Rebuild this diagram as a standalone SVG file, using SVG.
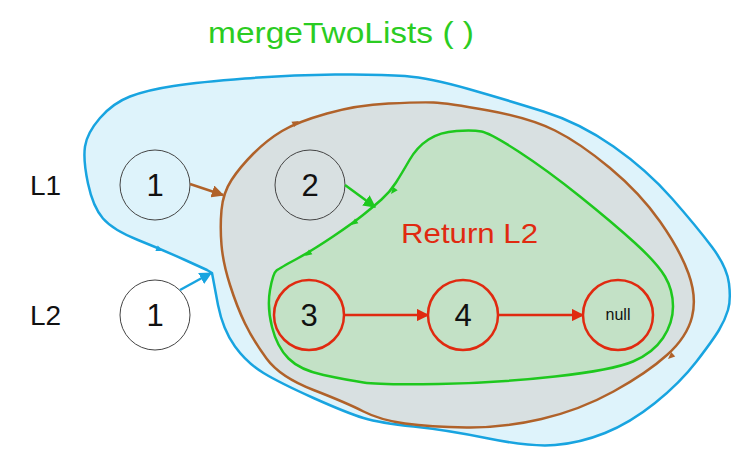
<svg xmlns="http://www.w3.org/2000/svg" width="747" height="468" viewBox="0 0 747 468">
<defs>
<marker id="ab" viewBox="0 0 10 10" refX="9" refY="5" markerWidth="5" markerHeight="5" orient="auto" markerUnits="strokeWidth"><path d="M0,0 L10,5 L0,10 Z" fill="#b0622a"/></marker>
<marker id="ag" viewBox="0 0 10 10" refX="9" refY="5" markerWidth="5" markerHeight="5" orient="auto" markerUnits="strokeWidth"><path d="M0,0 L10,5 L0,10 Z" fill="#1ec81e"/></marker>
<marker id="abl" viewBox="0 0 10 10" refX="9" refY="5" markerWidth="5" markerHeight="5" orient="auto" markerUnits="strokeWidth"><path d="M0,0 L10,5 L0,10 Z" fill="#18a4e0"/></marker>
<marker id="ar" viewBox="0 0 10 10" refX="9" refY="5" markerWidth="5" markerHeight="5" orient="auto" markerUnits="strokeWidth"><path d="M0,0 L10,5 L0,10 Z" fill="#e02a10"/></marker>
</defs>
<style>
.t{font-family:"Comic Sans MS","Liberation Sans",sans-serif}
.region{stroke-linejoin:round;stroke-width:2.5}
.blue{fill:#def3fb;stroke:#18a4e0}
.brown{fill:#d8e0e1;stroke:#b0622a}
.green{fill:#c3e1c6;stroke:#1ec81e}
.gnode{stroke:#444;stroke-width:1}
.rnode{fill:none;stroke:#e02a10;stroke-width:2.5}
.num{font-size:31px;fill:#111;text-anchor:middle}
.lbl{font-size:28px;fill:#111}
</style>
<text class="t" x="341" y="43" font-size="29" fill="#2bcc22" text-anchor="middle" textLength="266" lengthAdjust="spacingAndGlyphs">mergeTwoLists ( )</text>
<g id="regions">
<path class="region blue" d="M100,118 Q113,103 130,96.5 Q147,90 173.5,86 Q200,82 245,78.5 Q290,75 335,74.5 Q380,74 405,76 Q430,78 468.5,89 Q507,100 543.5,111.5 Q580,123 613.5,146.5 Q647,170 672,198.5 Q697,227 712,247 Q727,267 729,283.5 Q731,300 728,310 Q725,320 719,330 Q713,340 696.5,361.5 Q680,383 655,403 Q630,423 605,433 Q580,443 555,445 Q530,447 488.5,438.5 Q447,430 413.5,426.5 Q380,423 363.5,418 Q347,413 313.5,398 Q280,383 263.5,373 Q247,363 235,346.5 Q223,330 218,305 L212,273 L207,270 L185,260 Q163,250 138,240 Q113,230 103,218.5 Q93,207 88,183.5 Q83,160 85,146.5 Q87,133 100,118 Z"/>
<path class="region brown" d="M221.5,210 Q223,193 231.5,180 Q240,167 253.5,153.5 Q267,140 282,131 Q297,122 327,113.5 Q357,105 388.5,103.5 Q420,102 433.5,102.5 Q447,103 488.5,110.5 Q530,118 555,130.5 Q580,143 610,168 Q640,193 660,221.5 Q680,250 688.5,273.5 Q697,297 692,317 Q687,337 667,355 Q647,373 613.5,391.5 Q580,410 541.5,419 Q503,428 466.5,427.5 Q430,427 405,423.5 Q380,420 363.5,411.5 Q347,403 313.5,390 Q280,377 266.5,358.5 Q253,340 245,323.5 Q237,307 230,285 Q223,263 221.5,245 Q220,227 221.5,210 Z"/>
<path class="region green" d="M363,215 Q373,207 381.5,199.5 Q390,192 396,182.5 Q402,173 409.5,160 Q417,147 428.5,139.5 Q440,132 456.5,131 Q473,130 481.5,131.5 Q490,133 518.5,151.5 Q547,170 580,196.5 Q613,223 635,243 Q657,263 665,276.5 Q673,290 673,306.5 Q673,323 663,338 Q653,353 633,361.5 Q613,370 555,376.5 Q497,383 438.5,384 Q380,385 363.5,382.5 Q347,380 323.5,375 Q300,370 288.5,358.5 Q277,347 272,327 Q267,307 270,290 Q273,273 276.5,270.5 Q280,268 296.5,259 Q313,250 333,236.5 Q353,223 363,215 Z"/>
</g>
<g id="flowmarks">
<path d="M299,121 L294.4,127 L291.4,121.8 Z" fill="#b0622a"/>
<path d="M668,359 L675.2,356.5 L671.2,352.1 Z" fill="#b0622a"/>
<path d="M391,194 L397.7,190.3 L392.9,186.7 Z" fill="#1ec81e"/>
<path d="M351,225 L358.4,223.3 L355,218.5 Z" fill="#1ec81e"/>
<path d="M305,256 L312.4,254.3 L309,249.5 Z" fill="#1ec81e"/>
<path d="M163,251 L155.4,251.1 L157.8,245.5 Z" fill="#18a4e0"/>
</g>
<text class="t lbl" x="30" y="195">L1</text>
<text class="t lbl" x="30" y="325">L2</text>
<text class="t" x="401" y="243" font-size="28" fill="#e02a10" textLength="137" lengthAdjust="spacingAndGlyphs">Return L2</text>
<g id="n1a"><circle class="gnode" cx="155" cy="185" r="35" fill="#def3fb"/><text class="t num" x="155" y="196">1</text></g>
<g id="n2"><circle class="gnode" cx="310" cy="185" r="35" fill="#d8e0e1"/><text class="t num" x="310" y="196">2</text></g>
<g id="n1b"><circle class="gnode" cx="155" cy="315" r="35" fill="#fff"/><text class="t num" x="155" y="326">1</text></g>
<g id="n3"><circle class="rnode" cx="309" cy="315" r="35"/><text class="t num" x="309" y="326">3</text></g>
<g id="n4"><circle class="rnode" cx="463" cy="315" r="35"/><text class="t num" x="463" y="326">4</text></g>
<g id="nnull"><circle class="rnode" cx="618" cy="315" r="35"/><text class="t" x="618" y="320" font-size="16" fill="#111" text-anchor="middle">null</text></g>
<g id="connectors" stroke-width="2.5" fill="none">
<line x1="190" y1="184" x2="223" y2="195" stroke="#b0622a" marker-end="url(#ab)"/>
<line x1="345" y1="185" x2="375" y2="207" stroke="#1ec81e" marker-end="url(#ag)"/>
<line x1="180" y1="290" x2="211" y2="273" stroke="#18a4e0" marker-end="url(#abl)"/>
<line x1="344" y1="315" x2="428" y2="315" stroke="#e02a10" marker-end="url(#ar)"/>
<line x1="498" y1="315" x2="583" y2="315" stroke="#e02a10" marker-end="url(#ar)"/>
</g>
</svg>
